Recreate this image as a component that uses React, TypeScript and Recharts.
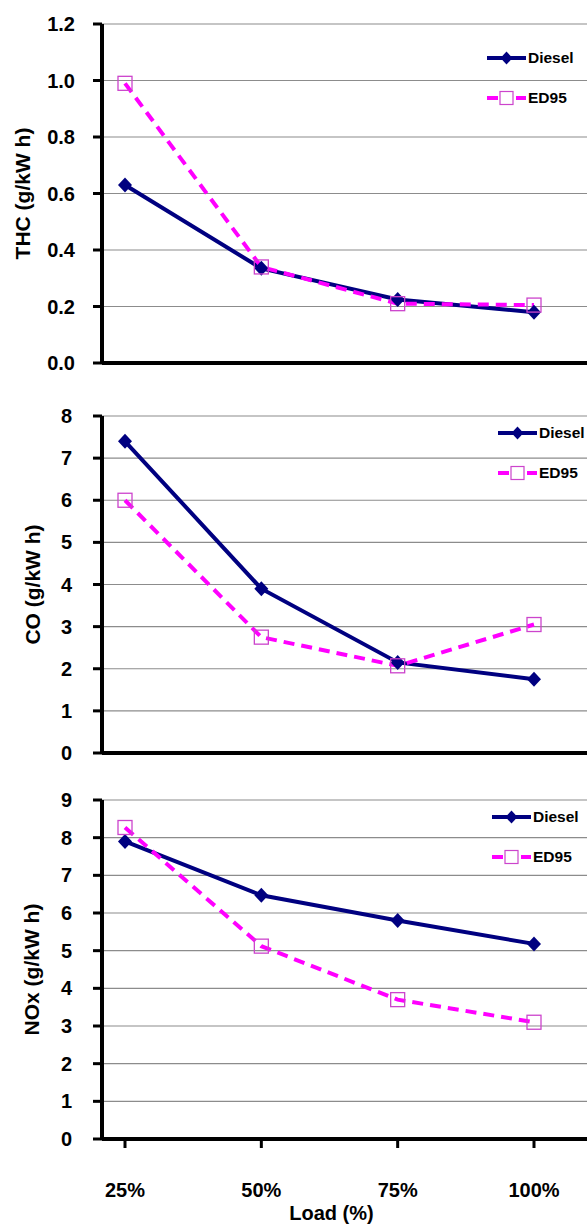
import React from "react";
import { LineChart, Line, XAxis, YAxis, CartesianGrid, Label } from "recharts";

// engine load categories
const loads = ["25%", "50%", "75%", "100%"];

// THC (g/kW h)
const thcDiesel = [0.63, 0.335, 0.225, 0.18];
const thcEd95 = [0.99, 0.34, 0.21, 0.205];
const thcTicks = [0, 0.2, 0.4, 0.6, 0.8, 1.0, 1.2];

// CO (g/kW h)
const coDiesel = [7.4, 3.9, 2.15, 1.75];
const coEd95 = [6.0, 2.75, 2.07, 3.05];
const coTicks = [0, 1, 2, 3, 4, 5, 6, 7, 8];

// NOx (g/kW h)
const noxDiesel = [7.9, 6.47, 5.8, 5.18];
const noxEd95 = [8.27, 5.12, 3.7, 3.1];
const noxTicks = [0, 1, 2, 3, 4, 5, 6, 7, 8, 9];

const DIESEL = "#000080";
const ED95_LINE = "#FF00FF";
const ED95_MARK = "#CC44CC";
const GRID = "#8c8c8c";
const FONT = '"Liberation Sans", Arial, sans-serif';

type Row = { load: string; diesel: number; ed95: number };

const toRows = (diesel: number[], ed95: number[]): Row[] =>
  loads.map((load, i) => ({ load, diesel: diesel[i], ed95: ed95[i] }));

const diamond = (cx: number, cy: number, r = 7.5) =>
  `M${cx},${cy - r}L${cx + r - 0.5},${cy}L${cx},${cy + r}L${cx - r + 0.5},${cy}Z`;

function DieselDot(props: any) {
  const { cx, cy, index } = props;
  if (cx == null || cy == null) return null;
  return <path key={`dd-${index}`} d={diamond(cx, cy)} fill={DIESEL} />;
}

function Ed95Dot(props: any) {
  const { cx, cy, index } = props;
  if (cx == null || cy == null) return null;
  return (
    <rect
      key={`ed-${index}`}
      x={cx - 7}
      y={cy - 7}
      width={14}
      height={14}
      fill="none"
      stroke={ED95_MARK}
      strokeWidth={1.3}
    />
  );
}

// legend drawn beside the chart, top-right inside the plot area
function LegendBox({ top, left }: { top: number; left: number }) {
  const row = { display: "flex", alignItems: "center", height: 20 } as const;
  return (
    <div
      style={{
        position: "absolute",
        top,
        left,
        fontFamily: FONT,
        fontWeight: 700,
        fontSize: 15.5,
        color: "#000",
        whiteSpace: "nowrap",
      }}
    >
      <div style={row}>
        <svg width={40} height={20}>
          <line x1={0} y1={10} x2={39} y2={10} stroke={DIESEL} strokeWidth={4} />
          <path d={diamond(19.5, 10, 6.5)} fill={DIESEL} />
        </svg>
        <span style={{ marginLeft: 1 }}>Diesel</span>
      </div>
      <div style={{ ...row, marginTop: 20 }}>
        <svg width={40} height={20}>
          <line x1={0} y1={10} x2={11} y2={10} stroke={ED95_LINE} strokeWidth={4} />
          <rect x={13} y={3.5} width={13} height={13} fill="#fff" stroke={ED95_MARK} strokeWidth={1.2} />
          <line x1={29} y1={10} x2={39} y2={10} stroke={ED95_LINE} strokeWidth={4} />
        </svg>
        <span style={{ marginLeft: 1 }}>ED95</span>
      </div>
    </div>
  );
}

interface PanelProps {
  data: Row[];
  ticks: number[];
  yLabel: string;
  decimals: number;
  height: number;
  marginTop: number;
  xAxisHeight: number;
  showX: boolean;
  labelX: number;
  yTickMargin: number;
  legendTop: number;
  legendLeft: number;
}

function Panel({
  data,
  ticks,
  yLabel,
  decimals,
  height,
  marginTop,
  xAxisHeight,
  showX,
  labelX,
  yTickMargin,
  legendTop,
  legendLeft,
}: PanelProps) {
  const tickStyle = { fill: "#000", fontSize: 20, fontWeight: 700, fontFamily: FONT };
  return (
    <div style={{ position: "relative", width: 587, height }}>
      <LineChart
        width={587}
        height={height}
        data={data}
        margin={{ top: marginTop, right: 0, left: 0, bottom: 0 }}
      >
        <CartesianGrid horizontal vertical={false} stroke={GRID} strokeWidth={1.2} />
        <XAxis
          dataKey="load"
          height={xAxisHeight}
          padding={{ left: 23, right: 53 }}
          axisLine={{ stroke: "#000", strokeWidth: 4 }}
          tickLine={{ stroke: "#000", strokeWidth: 3 }}
          tickSize={9}
          tickMargin={35}
          tick={showX ? tickStyle : false}
          interval={0}
        >
          {showX && (
            <Label
              content={(p: any) => {
                const vb = p.viewBox;
                const x = vb.x + vb.width / 2 - 13;
                const y = vb.y + 74;
                return (
                  <text x={x} y={y} textAnchor="middle" dominantBaseline="central" style={tickStyle}>
                    Load (%)
                  </text>
                );
              }}
            />
          )}
        </XAxis>
        <YAxis
          width={102}
          domain={[ticks[0], ticks[ticks.length - 1]]}
          ticks={ticks}
          interval={0}
          axisLine={{ stroke: "#000", strokeWidth: 4 }}
          tickLine={{ stroke: "#000", strokeWidth: 3 }}
          tickSize={9}
          tickMargin={yTickMargin}
          tick={tickStyle}
          tickFormatter={(v: number) => v.toFixed(decimals)}
        >
          <Label
            content={(p: any) => {
              const vb = p.viewBox;
              const cy = vb.y + vb.height / 2;
              return (
                <text
                  x={labelX}
                  y={cy}
                  transform={`rotate(-90 ${labelX} ${cy})`}
                  textAnchor="middle"
                  dominantBaseline="central"
                  style={{ ...tickStyle, fontSize: 21 }}
                >
                  {yLabel}
                </text>
              );
            }}
          />
        </YAxis>
        <Line
          type="linear"
          dataKey="diesel"
          name="Diesel"
          stroke={DIESEL}
          strokeWidth={4}
          dot={DieselDot}
          activeDot={false}
          isAnimationActive={false}
        />
        <Line
          type="linear"
          dataKey="ed95"
          name="ED95"
          stroke={ED95_LINE}
          strokeWidth={4}
          strokeDasharray="11 7"
          dot={Ed95Dot}
          activeDot={false}
          isAnimationActive={false}
        />
      </LineChart>
      <LegendBox top={legendTop} left={legendLeft} />
    </div>
  );
}

export default function App() {
  return (
    <div
      style={{
        position: "absolute",
        left: 0,
        top: 0,
        width: 587,
        height: 1227,
        overflow: "hidden",
        background: "#fff",
      }}
    >
      <div style={{ position: "absolute", left: 0, top: 0 }}>
        <Panel
          data={toRows(thcDiesel, thcEd95)}
          ticks={thcTicks}
          yLabel="THC (g/kW h)"
          decimals={1}
          height={390}
          marginTop={24}
          xAxisHeight={27}
          showX={false}
          labelX={22}
          yTickMargin={18}
          legendTop={48}
          legendLeft={487}
        />
      </div>
      <div style={{ position: "absolute", left: 0, top: 390 }}>
        <Panel
          data={toRows(coDiesel, coEd95)}
          ticks={coTicks}
          yLabel="CO (g/kW h)"
          decimals={0}
          height={390}
          marginTop={26}
          xAxisHeight={27}
          showX={false}
          labelX={32}
          yTickMargin={21}
          legendTop={33}
          legendLeft={498}
        />
      </div>
      <div style={{ position: "absolute", left: 0, top: 780 }}>
        <Panel
          data={toRows(noxDiesel, noxEd95)}
          ticks={noxTicks}
          yLabel="NOx (g/kW h)"
          decimals={0}
          height={447}
          marginTop={20}
          xAxisHeight={88}
          showX
          labelX={31}
          yTickMargin={21}
          legendTop={27}
          legendLeft={492}
        />
      </div>
    </div>
  );
}
